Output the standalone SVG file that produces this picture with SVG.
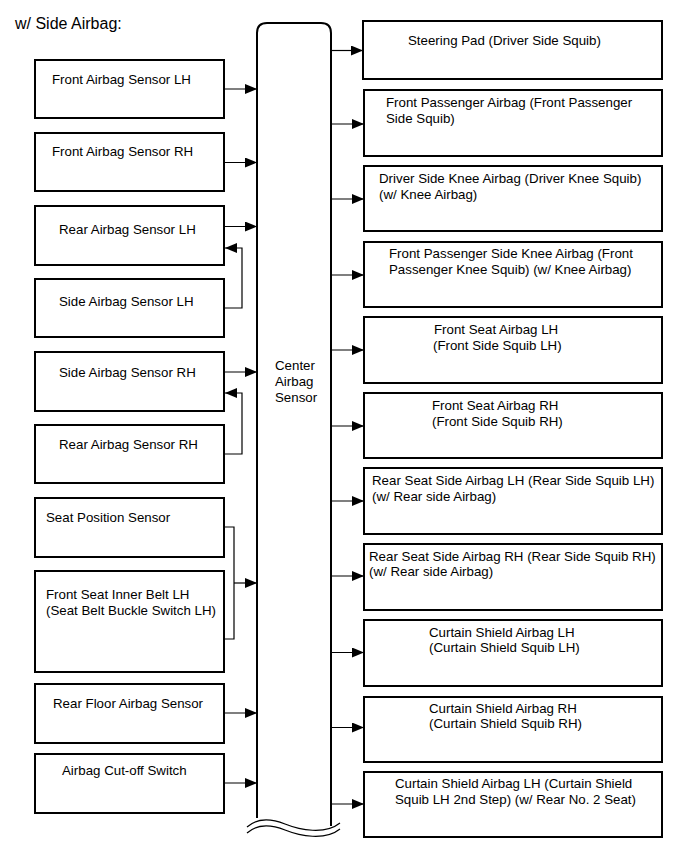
<svg xmlns="http://www.w3.org/2000/svg" width="691" height="855" viewBox="0 0 691 855">
<defs>
<style>
.box{fill:#fff;stroke:#000;stroke-width:2}
.bus{fill:#fff;stroke:#000;stroke-width:2}
.c{fill:none;stroke:#000;stroke-width:1.2}
.t{font-family:"Liberation Sans",Arial,sans-serif;font-size:13.3px;fill:#000}
.title{font-family:"Liberation Sans",Arial,sans-serif;font-size:16px;fill:#000}
</style>
<marker id="ah" markerUnits="userSpaceOnUse" markerWidth="12" markerHeight="10" refX="12" refY="5" orient="auto">
<path d="M0,0 L12,5 L0,10 Z" fill="#000"/>
</marker>
</defs>
<rect width="691" height="855" fill="#fff"/>
<text class="title" x="15" y="29">w/ Side Airbag:</text>

<g id="center">
<path class="bus" d="M257,818 V33 Q257,23 267,23 H321 Q331,23 331,33 V826"/>
<path d="M247,827 C257,818 270,818 285,824 S325,835 340,823" fill="none" stroke="#000" stroke-width="1.2"/>
<path d="M247,833 C257,824 270,824 285,830 S325,841 340,829" fill="none" stroke="#000" stroke-width="1.2"/>
<text class="t" x="275" y="370">Center</text>
<text class="t" x="275" y="386">Airbag</text>
<text class="t" x="275" y="402">Sensor</text>
</g>

<g id="in1"><rect class="box" x="35" y="60" width="189" height="58"/><text class="t" x="52" y="83.5">Front Airbag Sensor LH</text></g>
<g id="in2"><rect class="box" x="35" y="133" width="189" height="58"/><text class="t" x="52" y="156">Front Airbag Sensor RH</text></g>
<g id="in3"><rect class="box" x="35" y="206" width="189" height="59"/><text class="t" x="59" y="234">Rear Airbag Sensor LH</text></g>
<g id="in4"><rect class="box" x="35" y="279" width="189" height="58"/><text class="t" x="59" y="305.5">Side Airbag Sensor LH</text></g>
<g id="in5"><rect class="box" x="35" y="352" width="189" height="59"/><text class="t" x="59" y="377">Side Airbag Sensor RH</text></g>
<g id="in6"><rect class="box" x="35" y="425" width="189" height="58"/><text class="t" x="59" y="448.5">Rear Airbag Sensor RH</text></g>
<g id="in7"><rect class="box" x="35" y="498" width="189" height="59"/><text class="t" x="46" y="521.5">Seat Position Sensor</text></g>
<g id="in8"><rect class="box" x="35" y="571" width="189" height="101"/><text class="t" x="46" y="599">Front Seat Inner Belt LH</text><text class="t" x="46" y="614.5">(Seat Belt Buckle Switch LH)</text></g>
<g id="in9"><rect class="box" x="35" y="684" width="189" height="59"/><text class="t" x="53" y="708">Rear Floor Airbag Sensor</text></g>
<g id="in10"><rect class="box" x="35" y="754" width="189" height="59"/><text class="t" x="62" y="775">Airbag Cut-off Switch</text></g>

<g id="out1"><rect class="box" x="363" y="21" width="299" height="58"/><text class="t" x="408" y="45">Steering Pad (Driver Side Squib)</text></g>
<g id="out2"><rect class="box" x="364" y="90" width="298" height="66"/><text class="t" x="386" y="107">Front Passenger Airbag (Front Passenger</text><text class="t" x="386" y="123">Side Squib)</text></g>
<g id="out3"><rect class="box" x="364" y="166" width="298" height="65"/><text class="t" x="379" y="183">Driver Side Knee Airbag (Driver Knee Squib)</text><text class="t" x="379" y="199">(w/ Knee Airbag)</text></g>
<g id="out4"><rect class="box" x="364" y="242" width="298" height="65"/><text class="t" x="389" y="258">Front Passenger Side Knee Airbag (Front</text><text class="t" x="389" y="274">Passenger Knee Squib) (w/ Knee Airbag)</text></g>
<g id="out5"><rect class="box" x="364" y="317" width="298" height="66"/><text class="t" x="434" y="334">Front Seat Airbag LH</text><text class="t" x="433" y="350">(Front Side Squib LH)</text></g>
<g id="out6"><rect class="box" x="364" y="393" width="298" height="65"/><text class="t" x="432" y="410">Front Seat Airbag RH</text><text class="t" x="432" y="426">(Front Side Squib RH)</text></g>
<g id="out7"><rect class="box" x="364" y="468" width="298" height="66"/><text class="t" x="372" y="485">Rear Seat Side Airbag LH (Rear Side Squib LH)</text><text class="t" x="372" y="500.5">(w/ Rear side Airbag)</text></g>
<g id="out8"><rect class="box" x="364" y="544" width="298" height="66"/><text class="t" x="369" y="561">Rear Seat Side Airbag RH (Rear Side Squib RH)</text><text class="t" x="369" y="576">(w/ Rear side Airbag)</text></g>
<g id="out9"><rect class="box" x="364" y="620" width="298" height="66"/><text class="t" x="429" y="636.5">Curtain Shield Airbag LH</text><text class="t" x="429" y="652">(Curtain Shield Squib LH)</text></g>
<g id="out10"><rect class="box" x="364" y="697" width="298" height="65"/><text class="t" x="429" y="712.5">Curtain Shield Airbag RH</text><text class="t" x="429" y="728">(Curtain Shield Squib RH)</text></g>
<g id="out11"><rect class="box" x="364" y="772" width="298" height="65"/><text class="t" x="395" y="788">Curtain Shield Airbag LH (Curtain Shield</text><text class="t" x="395" y="804">Squib LH 2nd Step) (w/ Rear No. 2 Seat)</text></g>

<g id="connectors">
<path class="c" d="M224,89 H257" marker-end="url(#ah)"/>
<path class="c" d="M224,162.5 H257" marker-end="url(#ah)"/>
<path class="c" d="M224,226.5 H257" marker-end="url(#ah)"/>
<path class="c" d="M224,308 H242 V248 H225" marker-end="url(#ah)"/>
<path class="c" d="M224,372 H257" marker-end="url(#ah)"/>
<path class="c" d="M224,454 H242 V393 H225" marker-end="url(#ah)"/>
<path class="c" d="M224,527 H234 V639 H224"/>
<path class="c" d="M234,583 H257" marker-end="url(#ah)"/>
<path class="c" d="M224,713 H257" marker-end="url(#ah)"/>
<path class="c" d="M224,783 H257" marker-end="url(#ah)"/>
<path class="c" d="M331,50.5 H363" marker-end="url(#ah)"/>
<path class="c" d="M331,124 H364" marker-end="url(#ah)"/>
<path class="c" d="M331,199 H364" marker-end="url(#ah)"/>
<path class="c" d="M331,275 H364" marker-end="url(#ah)"/>
<path class="c" d="M331,350 H364" marker-end="url(#ah)"/>
<path class="c" d="M331,426 H364" marker-end="url(#ah)"/>
<path class="c" d="M331,501 H364" marker-end="url(#ah)"/>
<path class="c" d="M331,576 H364" marker-end="url(#ah)"/>
<path class="c" d="M331,652.5 H364" marker-end="url(#ah)"/>
<path class="c" d="M331,727.5 H364" marker-end="url(#ah)"/>
<path class="c" d="M331,804 H364" marker-end="url(#ah)"/>
</g>
</svg>
